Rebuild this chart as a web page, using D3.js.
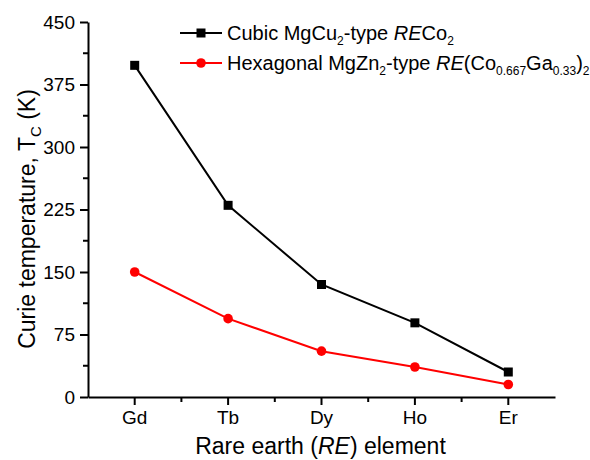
<!DOCTYPE html>
<html>
<head>
<style>
  body { margin: 0; background: #fff; }
  svg text { font-family: "Liberation Sans", Arial, sans-serif; fill: #000; }
</style>
</head>
<body>
<div id="viz"></div>
<script src="https://d3js.org/d3.v7.min.js"></script>
<script>
  // data
  const elements = ["Gd", "Tb", "Dy", "Ho", "Er"];
  const cubicTc = [398, 230, 135, 89, 30];
  const hexTc = [150, 94, 55, 36, 15];
  const yTicks = [0, 75, 150, 225, 300, 375, 450];
  const yMinor = [37.5, 112.5, 187.5, 262.5, 337.5, 412.5];

  const width = 590, height = 460;
  const plotLeft = 88, plotRight = 555, plotTop = 22, plotBottom = 397;

  const svg = d3.select("#viz").append("svg")
      .attr("width", width)
      .attr("height", height);

  const x = d3.scaleBand()
      .domain(elements)
      .range([plotLeft, plotRight]);
  const xMid = d => x(d) + x.bandwidth() / 2;

  const y = d3.scaleLinear()
      .domain([0, 450])
      .range([plotBottom, plotTop]);

  // y axis
  const yAxis = svg.append("g")
      .attr("transform", `translate(${plotLeft},0)`)
      .call(d3.axisLeft(y).tickValues(yTicks).tickSize(8).tickPadding(5).tickSizeOuter(0));
  yAxis.selectAll(".tick text").attr("font-size", 19).attr("font-family", null);
  yAxis.selectAll("line, path").attr("stroke-width", 2);

  svg.append("g").selectAll("line")
      .data(yMinor)
    .enter().append("line")
      .attr("x1", plotLeft).attr("x2", plotLeft - 5)
      .attr("y1", d => y(d)).attr("y2", d => y(d))
      .attr("stroke", "#000").attr("stroke-width", 2);

  // x axis
  const xAxis = svg.append("g")
      .attr("transform", `translate(0,${plotBottom})`)
      .call(d3.axisBottom(x).tickSize(8).tickPadding(6).tickSizeOuter(0));
  xAxis.selectAll(".tick text").attr("font-size", 19).attr("font-family", null);
  xAxis.selectAll("line, path").attr("stroke-width", 2);

  svg.append("g").selectAll("line")
      .data(elements.slice(1))
    .enter().append("line")
      .attr("x1", d => x(d)).attr("x2", d => x(d))
      .attr("y1", plotBottom).attr("y2", plotBottom + 5)
      .attr("stroke", "#000").attr("stroke-width", 2);

  // axis titles
  const xt = svg.append("text")
      .attr("x", (plotLeft + plotRight) / 2 - 1)
      .attr("y", 454)
      .attr("text-anchor", "middle")
      .attr("font-size", 23);
  xt.append("tspan").text("Rare earth (");
  xt.append("tspan").attr("font-style", "italic").text("RE");
  xt.append("tspan").text(") element");

  const yt = svg.append("text")
      .attr("transform", "translate(35,219) rotate(-90)")
      .attr("text-anchor", "middle")
      .attr("font-size", 23);
  yt.append("tspan").text("Curie temperature, T");
  yt.append("tspan").attr("font-size", 15).attr("dy", 6).text("C");
  yt.append("tspan").attr("dy", -6).text(" (K)");

  // series
  const series = [
    { values: cubicTc, color: "#000", shape: "square" },
    { values: hexTc, color: "#ff0000", shape: "circle" }
  ];

  const line = d3.line()
      .x((d, i) => xMid(elements[i]))
      .y(d => y(d));

  series.forEach(s => {
    svg.append("path")
        .datum(s.values)
        .attr("d", line)
        .attr("fill", "none")
        .attr("stroke", s.color)
        .attr("stroke-width", 2);

    const pts = svg.append("g").selectAll("path")
        .data(s.values)
      .enter().append("path")
        .attr("transform", (d, i) => `translate(${xMid(elements[i])},${y(d)})`)
        .attr("fill", s.color);
    if (s.shape === "square") {
      pts.attr("d", "M-4.5,-4.5h9v9h-9z");
    } else {
      pts.attr("d", d3.symbol().type(d3.symbolCircle).size(Math.PI * 4.8 * 4.8));
    }
  });

  // legend
  const legend = svg.append("g");
  const rows = [
    { y: 33, color: "#000", shape: "square",
      parts: [["Cubic MgCu"], ["2", "sub"], ["-type "], ["RE", "it"], ["Co"], ["2", "sub"]] },
    { y: 63, color: "#ff0000", shape: "circle",
      parts: [["Hexagonal MgZn"], ["2", "sub"], ["-type "], ["RE", "it"], ["(Co"], ["0.667", "sub"],
              ["Ga"], ["0.33", "sub"], [")"], ["2", "sub"]] }
  ];

  rows.forEach(r => {
    legend.append("line")
        .attr("x1", 180).attr("x2", 222)
        .attr("y1", r.y).attr("y2", r.y)
        .attr("stroke", r.color).attr("stroke-width", 2);
    const m = legend.append("path")
        .attr("transform", `translate(201,${r.y})`)
        .attr("fill", r.color);
    if (r.shape === "square") m.attr("d", "M-4.5,-4.5h9v9h-9z");
    else m.attr("d", d3.symbol().type(d3.symbolCircle).size(Math.PI * 4.8 * 4.8));

    const t = legend.append("text")
        .attr("x", 227)
        .attr("y", r.y + 7)
        .attr("font-size", 20);
    let sub = false;
    r.parts.forEach(p => {
      const ts = t.append("tspan").text(p[0]);
      if (p[1] === "sub") {
        ts.attr("font-size", 12).attr("dy", sub ? 0 : 5);
        sub = true;
      } else {
        if (sub) ts.attr("dy", -5);
        sub = false;
        if (p[1] === "it") ts.attr("font-style", "italic");
      }
    });
  });
</script>
</body>
</html>
